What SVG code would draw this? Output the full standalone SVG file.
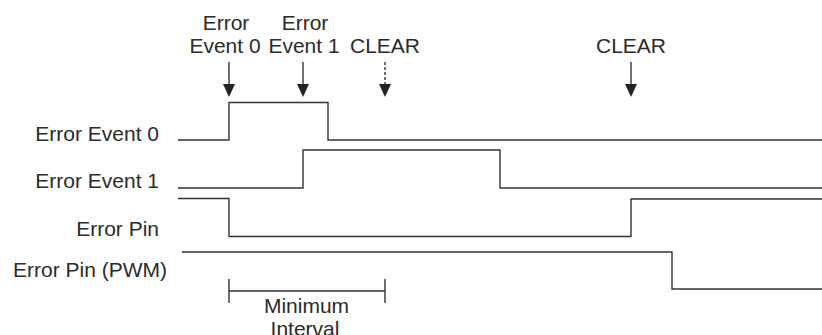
<svg xmlns="http://www.w3.org/2000/svg" width="822" height="335" viewBox="0 0 822 335">
<style>
text{font-family:"Liberation Sans",Arial,sans-serif;font-size:21px;fill:#2b2b2b}
.w{fill:none;stroke:#333;stroke-width:1.4}
.a{fill:none;stroke:#333;stroke-width:1.4}
.d{stroke-dasharray:3 2}
.h{fill:#222}
.m{text-anchor:middle}
.e{text-anchor:end}
</style>
<g id="labels">
<text class="e" x="159" y="141">Error Event 0</text>
<text class="e" x="159" y="188">Error Event 1</text>
<text class="e" x="159" y="236">Error Pin</text>
<text class="e" x="167" y="277">Error Pin (PWM)</text>
</g>
<g id="ev0-marker">
<text class="m" x="226" y="30">Error</text>
<text class="m" x="225" y="53">Event 0</text>
</g>
<g id="ev1-marker">
<text class="m" x="305" y="30">Error</text>
<text class="m" x="304" y="53">Event 1</text>
</g>
<g id="clear1">
<text class="m" x="385" y="53">CLEAR</text>
</g>
<g id="clear2">
<text class="m" x="631" y="53">CLEAR</text>
</g>
<g id="connectors">
<path class="a" d="M229,62 V84" />
<path class="h" d="M223,84 L235,84 L229,97 Z"/>
<path class="a" d="M303,62 V84" />
<path class="h" d="M297,84 L309,84 L303,97 Z"/>
<path class="a d" d="M385,62 V84" />
<path class="h" d="M379,84 L391,84 L385,97 Z"/>
<path class="a" d="M631,62 V84" />
<path class="h" d="M625,84 L637,84 L631,97 Z"/>
</g>
<g id="wave-ev0"><path class="w" d="M178,140 H229 V102.5 H328 V140 H822"/></g>
<g id="wave-ev1"><path class="w" d="M178,188 H303 V150 H500 V188 H822"/></g>
<g id="wave-pin"><path class="w" d="M178,198.5 H229 V236.5 H631 V199 H822"/></g>
<g id="wave-pwm"><path class="w" d="M182,252 H672 V289 H822"/></g>
<g id="min-interval">
<path class="w" d="M229,279 V303 M385,279 V303 M229,291 H385"/>
<text class="m" x="306.5" y="313">Minimum</text>
<text class="m" x="305" y="336">Interval</text>
</g>
</svg>
